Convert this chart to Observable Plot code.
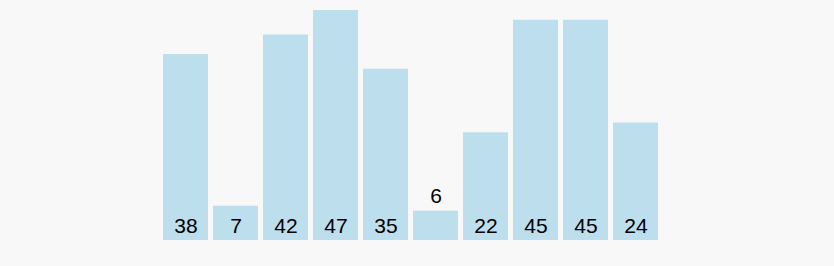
<!DOCTYPE html>
<html>
<head>
<meta charset="utf-8">
<script src="https://cdn.jsdelivr.net/npm/d3@7"></script>
<script src="https://cdn.jsdelivr.net/npm/@observablehq/plot@0.6"></script>
<style>
  html, body { margin: 0; padding: 0; background: #f8f8f8; }
  #chart svg { display: block; }
</style>
</head>
<body>
<div id="chart"></div>
<script>
// Bar values in display order
const categories = ["a", "b", "c", "d", "e", "f", "g", "h", "i", "j"];
const values = [38, 7, 42, 47, 35, 6, 22, 45, 45, 24];

const data = categories.map((c, i) => ({ category: c, value: values[i] }));

// Bars shorter than this get their label placed above the bar
const insideMin = 7;

const chart = Plot.plot({
  width: 834,
  height: 266,
  marginTop: 10,
  marginBottom: 26,
  marginLeft: 158,
  marginRight: 171,
  style: { background: "transparent", fontFamily: "'Liberation Sans', Arial, Helvetica, sans-serif" },
  x: { domain: categories, padding: 0.1, axis: null },
  y: { domain: [0, d3.max(values)], axis: null },
  marks: [
    Plot.barY(data, { x: "category", y: "value", fill: "#bddeec" }),
    Plot.text(data, {
      x: "category",
      y: d => (d.value >= insideMin ? 0 : d.value),
      text: d => String(d.value),
      dy: -8,
      lineAnchor: "bottom",
      fontSize: 21,
      fill: "#000"
    })
  ]
});

document.getElementById("chart").appendChild(chart);
</script>
</body>
</html>
